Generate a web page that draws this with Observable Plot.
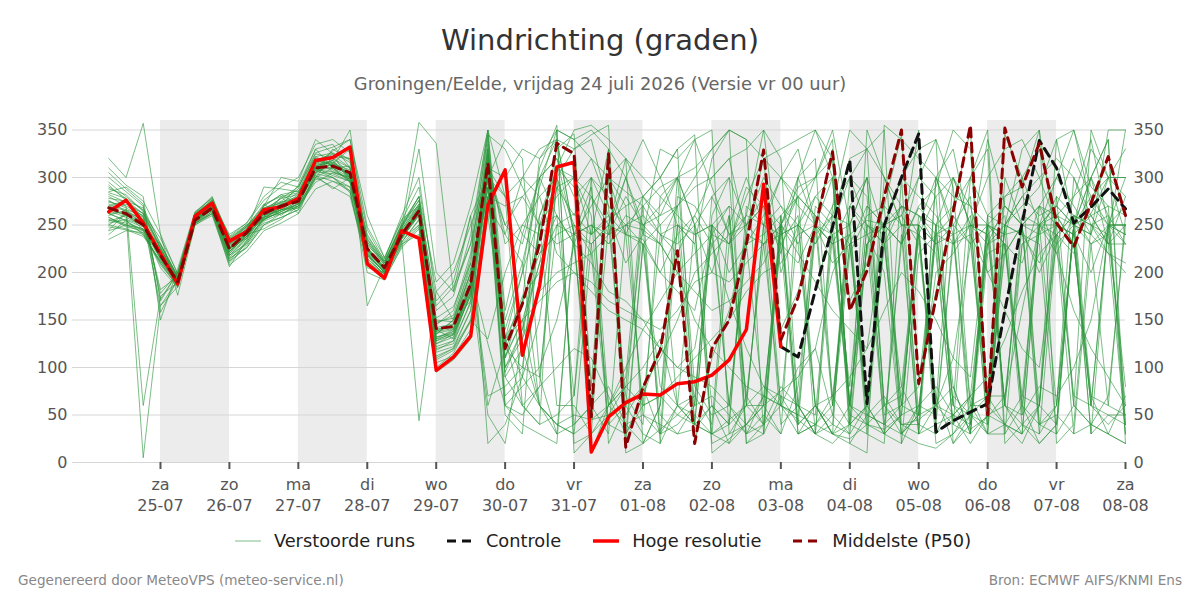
<!DOCTYPE html>
<html><head><meta charset="utf-8">
<script src="https://cdn.jsdelivr.net/npm/d3@7"></script>
<script src="https://cdn.jsdelivr.net/npm/@observablehq/plot@0.6"></script>
<style>
body{margin:0;background:#fff;font-family:"DejaVu Sans",sans-serif;}
#wrap{position:relative;width:1200px;height:600px;overflow:hidden;background:#fff;}
#title{position:absolute;top:23px;left:0;width:1200px;text-align:center;font-size:29px;line-height:1.2;color:#333;}
#subtitle{position:absolute;top:73px;left:0;width:1200px;text-align:center;font-size:17.8px;line-height:1.2;color:#666;}
#chart{position:absolute;top:100px;left:0;}
#legend{position:absolute;top:530px;left:3px;width:1200px;display:flex;justify-content:center;align-items:center;font-size:17.8px;color:#222;line-height:1.2;}
.item{display:flex;align-items:center;margin:0 16px;}
.item svg{margin-right:13px;}
.foot{position:absolute;top:572px;font-size:13.6px;color:#888;line-height:1.2;}
</style></head>
<body><div id="wrap">
<div id="title">Windrichting (graden)</div>
<div id="subtitle">Groningen/Eelde, vrijdag 24 juli 2026 (Versie vr 00 uur)</div>
<div id="chart"></div>
<div id="legend"></div>
<div class="foot" style="left:18px">Gegenereerd door MeteoVPS (meteo-service.nl)</div>
<div class="foot" style="right:18px">Bron: ECMWF AIFS/KNMI Ens</div>
</div>
<script>
// 6-hourly steps starting 24-07-2026 06:00 ; groups: 24-07 (3) | 25-07 .. 07-08 (4 each) | 08-08 00:00 (1)
const startTime = new Date(2026, 6, 24, 6);
const stepHours = 6;

const hogeResolutie = [264,276,252, 220,188,259,273, 233,243,266,269, 278,318,321,332, 209,194,244,236, 97,111,133,271, 308,113,186,311, 316,11,48,63, 72,71,83,85, 92,108,140,293, 122];

// control visible from 03-08 00:00 (index 39)
const controleStart = 39;
const controle = [122,111,181,248, 318,62,250,300, 346,32,44,53, 62,160,252,339, 310,252,269,288, 267];

const middelste = [268,262,250, 218,190,255,268, 225,242,262,270, 275,310,312,305, 225,205,240,265, 141,143,188,315, 120,167,230,336, 325,48,325,16, 79,118,223,20, 120,150,230,329, 129,174,248,327, 160,202,280,350, 83,173,264,355, 50,352,290,336, 252,227,273,322, 260];

const m01 = [270,265,252, 222,188,256,270, 226,240,262,272, 276,312,318,300, 222,204,238,268, 128,134,176,322, 112,150,210,250, 262,240,255,270, 280,300,330,345, 10,25,40,60, 75,90,120,200, 240,255,250,230, 268,250,60,35, 48,70,160,250, 270,250,262,300, 280];
const m02 = [290,278,255, 165,192,252,266, 230,248,258,268, 280,305,330,318, 230,208,245,272, 150,148,200,340, 90,60,40,350, 340,320,300,285, 270,240,220,260, 300,320,330,350, 200,250,300,340, 20,50,70,40, 45,60,110,230, 250,240,245,200, 240,220,300,340, 20];
const m03 = [255,250,245, 230,195,260,274, 218,236,270,282, 272,318,325,295, 215,198,235,250, 110,120,160,300, 250,280,300,320, 280,300,260,240, 235,200,240,260, 230,170,120,80, 60,45,30,20, 40,60,230,80, 40,30,50,70, 90,130,180,220, 240,260,250,220, 200];
const m04 = [320,300,357, 240,176,250,262, 232,245,255,266, 270,300,310,312, 240,210,250,280, 140,130,190,290, 140,200,260,310, 350,355,340,320, 300,280,260,240, 250,230,250,300, 270,230,60,30, 25,40,35,50, 60,80,50,40, 230,250,280,260, 270,250,240,300, 330];
const m05 = [245,262,5, 165,185,258,265, 222,238,265,278, 282,320,308,298, 205,200,232,255, 100,115,150,280, 130,90,300,340, 240,10,60,90, 280,300,330,40, 60,20,70,230, 250,300,350,320, 40,60,230,270, 50,240,260,230, 70,40,30,60, 260,280,340,250, 240];
const m06 = [280,270,60, 175,190,262,275, 235,250,268,275, 288,330,335,310, 235,210,242,262, 135,150,210,330, 100,130,180,200, 210,220,240,280, 250,230,200,150, 120,100,80,70, 60,50,40,30, 20,10,355,340, 320,300,280,270, 200,220,250,270, 220,160,120,90, 60];
const m07 = [262,255,240, 210,186,254,268, 212,232,258,266, 268,300,322,320, 218,196,240,268, 145,160,220,345, 125,175,200,290, 300,240,260,210, 240,230,270,300, 330,350,20,40, 60,100,120,50, 30,230,250,260, 300,280,60,50, 30,250,280,300, 320,300,260,230, 250];
const m08 = [275,268,258, 225,194,259,272, 228,244,290,288, 285,325,320,305, 228,212,248,280, 160,175,240,350, 280,240,220,260, 230,210,180,170, 150,140,160,190, 200,190,210,230, 240,280,260,70, 40,350,300,270, 240,60,80,30, 220,230,210,270, 250,240,200,250, 300];
const m09 = [258,248,244, 218,190,257,270, 224,242,262,268, 276,308,300,290, 224,202,236,262, 120,125,170,310, 300,330,320,350, 20,30,50,80, 60,70,90,110, 130,150,180,200, 210,240,250,210, 230,50,40,60, 80,250,270,300, 260,60,40,20, 40,250,230,60, 50];
const m10 = [300,285,270, 172,200,262,276, 230,246,266,274, 278,314,328,340, 260,215,255,290, 180,200,250,300, 60,80,100,150, 230,280,250,320, 20,60,300,250, 280,240,70,40, 80,60,30,270, 300,330,350,20, 220,240,230,260, 30,40,70,250, 270,320,280,250, 230];
const m11 = [240,255,248, 215,189,254,266, 215,226,250,262, 270,295,305,300, 210,195,230,240, 105,112,140,270, 240,300,280,220, 200,190,170,160, 150,120,100,90, 80,60,230,240, 260,30,40,60, 230,240,200,30, 60,50,230,250, 240,260,50,80, 70,100,150,250, 250];
const m12 = [268,272,262, 228,195,258,273, 240,252,280,295, 290,322,312,302, 225,205,242,270, 130,140,190,325, 110,170,320,340, 330,345,355,10, 20,35,50,70, 250,230,280,320, 330,340,350,300, 60,40,300,250, 30,300,250,230, 340,270,250,40, 30,250,260,230, 280];
const m13 = [285,290,275, 240,198,256,268, 222,240,258,280, 262,305,315,330, 165,206,236,264, 140,145,200,125, 60,50,80,300, 250,240,330,50, 80,30,40,60, 260,300,250,270, 220,300,320,60, 270,240,250,60, 240,70,20,50, 260,280,290,350, 230,250,30,50, 40];
const m14 = [250,262,245, 205,184,252,264, 206,234,272,260, 274,316,324,310, 220,200,248,276, 125,135,185,330, 95,140,250,310, 300,280,240,250, 245,230,200,180, 160,170,190,210, 250,40,60,70, 90,120,160,200, 180,150,110,90, 250,230,70,60, 340,350,290,270, 260];
const m15 = [272,266,260, 178,200,260,276, 236,248,270,300, 296,340,325,320, 238,214,260,300, 170,190,260,20, 40,90,150,290, 260,300,280,240, 280,260,300,80, 50,60,30,70, 230,210,250,300, 60,50,40,230, 270,290,350,330, 60,40,30,250, 220,260,230,240, 350];
const m16 = [265,258,250, 220,191,256,270, 218,230,256,264, 275,312,310,295, 218,200,244,330, 200,180,260,300, 70,90,60,40, 50,45,60,80, 100,130,60,40, 30,20,40,70, 60,250,280,260, 320,330,300,250, 250,40,240,250, 60,220,250,30, 60,250,240,220, 210];
const m17 = [278,275,268, 230,196,262,280, 232,250,264,270, 282,318,314,308, 232,210,250,358, 336,180,230,350, 160,240,300,260, 70,300,20,60, 270,20,60,250, 30,40,60,250, 300,270,250,230, 270,300,60,70, 250,230,40,30, 50,280,300,250, 260,230,70,30, 70];
const m18 = [248,245,238, 212,188,252,262, 210,228,252,258, 266,300,290,280, 212,198,234,44, 180,150,170,330, 130,200,310,355, 10,30,60,100, 140,170,200,220, 240,230,290,270, 60,50,240,260, 40,30,20,300, 280,260,230,240, 200,160,120,100, 230,280,300,340, 40];
const m19 = [288,282,264, 158,193,255,268, 226,236,260,266, 278,310,318,350, 226,208,246,270, 118,128,180,300, 340,320,90,30, 240,230,250,70, 40,280,300,250, 200,260,60,40, 260,280,300,350, 250,60,30,20, 60,200,220,250, 240,60,50,270, 300,350,270,250, 250];
const m20 = [260,266,254, 224,190,258,271, 220,240,246,256, 270,310,302,296, 222,202,238,262, 135,150,200,280, 270,280,250,230, 240,250,230,250, 270,290,300,310, 330,350,340,320, 300,280,260,240, 80,270,250,230, 300,340,290,60, 30,30,230,250, 250,240,260,270, 40];
const m21 = [310,292,280, 150,204,264,278, 238,252,276,290, 300,335,340,326, 245,212,252,280, 190,210,270,350, 130,170,220,240, 250,220,40,60, 30,20,250,230, 320,350,340,30, 70,60,30,50, 220,260,270,40, 30,250,300,250, 230,240,60,20, 40,250,280,300, 300];
const m22 = [235,244,242, 208,186,250,260, 208,222,244,252, 262,288,296,286, 200,192,228,248, 95,108,130,260, 130,60,80,100, 120,110,70,30, 60,70,50,40, 30,45,60,60, 30,80,250,230, 60,230,40,30, 20,15,30,50, 70,70,230,240, 280,60,40,30, 20];
const m23 = [282,274,262, 236,199,261,277, 229,246,268,273, 284,318,306,300, 234,210,240,266, 142,146,195,318, 100,140,210,310, 290,320,270,20, 230,50,30,60, 280,300,60,250, 270,250,60,30, 300,250,50,60, 240,280,300,250, 300,330,340,300, 250,230,60,40, 60];
const m24 = [256,252,246, 216,188,255,268, 226,242,264,272, 278,320,312,306, 226,204,240,262, 132,138,184,324, 118,166,236,330, 346,80,330,30, 70,120,220,20, 110,160,240,320, 140,180,250,330, 170,210,270,345, 90,180,270,350, 60,345,300,330, 260,230,270,320, 260];
const m25 = [295,280,265, 225,194,257,270, 230,242,260,268, 275,305,315,300, 225,203,238,264, 148,152,205,60, 120,100,90,250, 240,270,300,240, 230,200,180,160, 240,270,250,280, 230,30,60,40, 30,60,250,270, 260,230,250,280, 50,40,20,60, 40,250,330,300, 240];
const m26 = [268,260,252, 219,190,256,270, 224,238,258,266, 272,308,310,300, 220,200,236,260, 125,132,178,300, 280,300,330,340, 240,250,230,260, 250,270,300,340, 350,30,60,80, 70,40,250,230, 240,30,250,230, 350,30,70,50, 40,250,240,210, 250,230,60,250, 270];
const m27 = [262,264,256, 220,193,258,272, 228,244,264,274, 280,316,320,310, 226,206,244,268, 138,145,190,50, 20,130,250,280, 300,260,40,30, 230,250,270,60, 70,50,30,40, 250,290,300,320, 50,40,60,80, 250,230,240,60, 70,250,330,350, 20,40,250,240, 80];
const m28 = [252,256,250, 214,187,253,266, 216,232,258,262, 270,302,296,290, 214,199,232,256, 116,122,160,290, 50,30,260,300, 230,60,80,40, 50,40,30,35, 60,40,270,250, 240,250,230,260, 250,300,240,270, 260,240,250,40, 250,270,250,60, 280,260,250,230, 30];
const m29 = [274,270,260, 226,192,258,272, 226,242,262,270, 278,312,316,304, 226,204,242,266, 140,142,186,320, 230,250,280,300, 330,340,270,250, 230,80,60,50, 30,230,260,350, 320,60,30,40, 270,250,230,60, 50,60,300,270, 250,240,300,40, 60,300,250,260, 230];
const m30 = [244,250,242, 210,185,252,262, 214,230,254,262, 268,304,300,286, 212,196,230,250, 112,120,150,130, 200,250,240,300, 40,60,30,250, 260,240,230,250, 20,30,40,60, 250,230,280,300, 60,250,240,30, 50,240,80,30, 260,250,240,230, 30,60,350,300, 300];
const m31 = [292,276,258, 182,196,258,270, 232,248,266,278, 290,326,332,340, 248,216,256,270, 146,155,215,345, 330,290,250,60, 60,30,300,270, 50,30,60,40, 250,270,30,50, 30,300,250,240, 250,40,30,240, 30,40,50,70, 230,270,250,250, 240,70,60,250, 240];
const m32 = [258,250,246, 218,189,255,267, 220,236,256,264, 272,306,304,296, 218,200,240,264, 128,138,182,310, 280,60,40,50, 70,250,240,300, 240,330,320,340, 290,240,250,230, 60,30,40,70, 230,270,250,300, 30,60,40,250, 250,230,40,30, 240,260,70,60, 260];
const m33 = [266,260,254, 221,191,257,271, 225,241,263,271, 277,313,316,303, 224,203,241,265, 136,140,184,335, 150,210,290,350, 340,350,330,300, 250,260,270,290, 300,320,240,230, 250,220,190,160, 140,120,250,300, 330,340,20,40, 240,60,30,250, 300,270,240,350, 350];
const m34 = [276,264,252, 216,190,254,268, 222,238,270,282, 286,302,288,300, 219,200,236,262, 130,135,176,290, 60,40,30,20, 250,230,60,80, 250,30,280,270, 240,60,40,30, 250,280,60,30, 40,230,270,250, 250,300,330,240, 40,230,60,40, 50,30,230,250, 60];
const m35 = [305,288,272, 170,200,263,279, 237,250,256,270, 292,330,310,296, 236,212,250,276, 165,185,230,310, 250,230,300,320, 240,290,60,40, 20,60,250,240, 250,200,230,60, 260,60,270,250, 230,60,30,50, 260,250,240,300, 350,30,60,250, 230,30,40,70, 250];
const m36 = [250,246,240, 212,187,251,264, 212,226,250,258, 266,298,300,284, 210,194,226,246, 108,118,148,280, 110,150,170,190, 200,180,160,150, 140,120,100,120, 230,250,300,250, 40,60,50,250, 300,280,30,50, 250,20,30,60, 60,250,270,290, 340,250,60,50, 50];
const m37 = [284,278,266, 230,196,259,274, 234,248,272,280, 284,322,326,316, 232,208,248,272, 152,164,210,70, 80,100,250,260, 230,50,300,320, 280,250,60,70, 40,260,20,30, 240,250,230,270, 350,330,60,40, 40,300,240,30, 250,60,250,270, 260,250,300,230, 230];
const m38 = [262,254,244, 214,188,254,266, 218,234,256,264, 272,308,306,298, 220,201,236,260, 122,128,168,300, 90,120,60,40, 30,45,50,60, 80,110,150,200, 220,240,260,250, 230,260,30,240, 60,230,250,260, 230,60,50,20, 50,60,260,250, 60,250,300,260, 30];
const m39 = [270,276,262, 226,194,257,270, 224,240,262,268, 276,310,314,302, 224,204,240,264, 138,141,186,312, 240,210,60,30, 40,60,250,240, 60,240,250,40, 250,60,230,260, 300,330,250,60, 250,300,60,30, 50,250,60,300, 330,20,40,60, 250,240,30,250, 250];
const m40 = [254,260,250, 220,190,256,269, 222,238,260,266, 274,314,318,300, 222,203,238,264, 132,136,180,306, 130,150,60,40, 30,230,250,300, 340,300,250,230, 60,40,250,270, 250,40,60,30, 60,250,230,250, 240,220,40,70, 30,300,250,240, 250,60,40,30, 20];

const verstoordeRuns = [m01,m02,m03,m04,m05,m06,m07,m08,m09,m10,m11,m12,m13,m14,m15,m16,m17,m18,m19,m20,m21,m22,m23,m24,m25,m26,m27,m28,m29,m30,m31,m32,m33,m34,m35,m36,m37,m38,m39,m40];

// alternate-day shading (start days)
const shadedDays = ["2026-07-25","2026-07-27","2026-07-29","2026-07-31","2026-08-02","2026-08-04","2026-08-06"];
const dayNames = ["zo","ma","di","wo","do","vr","za"];
const yTicks = [0,50,100,150,200,250,300,350];

for (const [i, m] of verstoordeRuns.entries()) if (m.length !== 60) throw new Error("member " + (i+1) + " has " + m.length);

const timeAt = k => new Date(startTime.getTime() + k * stepHours * 3600e3);
const parseDay = s => { const [y, mo, d] = s.split("-").map(Number); return new Date(y, mo - 1, d); };

const ensData = verstoordeRuns.flatMap((m, i) => m.map((v, k) => ({t: timeAt(k), v, run: i})));
const hresData = hogeResolutie.map((v, k) => ({t: timeAt(k), v}));
const ctrlData = controle.map((v, k) => ({t: timeAt(k + controleStart), v}));
const p50Data = middelste.map((v, k) => ({t: timeAt(k), v}));
const bands = shadedDays.map(s => { const a = parseDay(s); return {x1: a, x2: new Date(a.getFullYear(), a.getMonth(), a.getDate() + 1)}; });
const dayTicks = d3.range(15).map(i => new Date(2026, 6, 25 + i));

const pad = n => String(n).padStart(2, "0");
const fmt = d => `${dayNames[d.getDay()]}\n${pad(d.getDate())}-${pad(d.getMonth() + 1)}`;

const chart = Plot.plot({
  width: 1200, height: 420,
  marginTop: 20, marginBottom: 58, marginLeft: 72, marginRight: 75,
  style: {fontFamily: "DejaVu Sans, sans-serif", fontSize: "16px", color: "#555", background: "#fff"},
  x: {type: "time", domain: [new Date(2026, 6, 23, 17, 22), new Date(2026, 7, 8)]},
  y: {domain: [0, 360]},
  marks: [
    Plot.rect(bands, {x1: "x1", x2: "x2", fill: "#ececec"}),
    Plot.ruleY(yTicks, {stroke: "#d6d6d6", strokeWidth: 1}),
    Plot.line(ensData, {x: "t", y: "v", z: "run", stroke: "#2b963b", strokeWidth: 1, strokeOpacity: 0.62}),
    Plot.line(ctrlData, {x: "t", y: "v", stroke: "#111", strokeWidth: 3, strokeDasharray: "9,6"}),
    Plot.line(hresData, {x: "t", y: "v", stroke: "#ff0000", strokeWidth: 3.5}),
    Plot.line(p50Data, {x: "t", y: "v", stroke: "#8b0000", strokeWidth: 3, strokeDasharray: "9,6"}),
    Plot.axisX({ticks: dayTicks, tickFormat: fmt, label: null, tickSize: 7, tickPadding: 6, stroke: "#555", strokeWidth: 2, lineHeight: 1.3, fontSize: 16}),
    Plot.axisY({anchor: "left", ticks: yTicks, label: null, tickSize: 0, tickPadding: 5, fontSize: 16}),
    Plot.axisY({anchor: "right", ticks: yTicks, label: null, tickSize: 0, tickPadding: 8, fontSize: 16})
  ]
});
document.getElementById("chart").appendChild(chart);

const legendItems = [
  {label: "Verstoorde runs", stroke: "#2b963b", w: 1, dash: null, op: 0.62},
  {label: "Controle", stroke: "#111", w: 3, dash: "9,6", op: 1},
  {label: "Hoge resolutie", stroke: "#ff0000", w: 3.5, dash: null, op: 1},
  {label: "Middelste (P50)", stroke: "#8b0000", w: 3, dash: "9,6", op: 1}
];
const leg = document.getElementById("legend");
for (const it of legendItems) {
  const d = document.createElement("div"); d.className = "item";
  d.innerHTML = `<svg width="26" height="8"><line x1="0" x2="26" y1="4" y2="4" stroke="${it.stroke}" stroke-width="${it.w}" stroke-opacity="${it.op}" ${it.dash ? `stroke-dasharray="${it.dash}"` : ""}/></svg><span>${it.label}</span>`;
  leg.appendChild(d);
}
</script>
</body></html>
